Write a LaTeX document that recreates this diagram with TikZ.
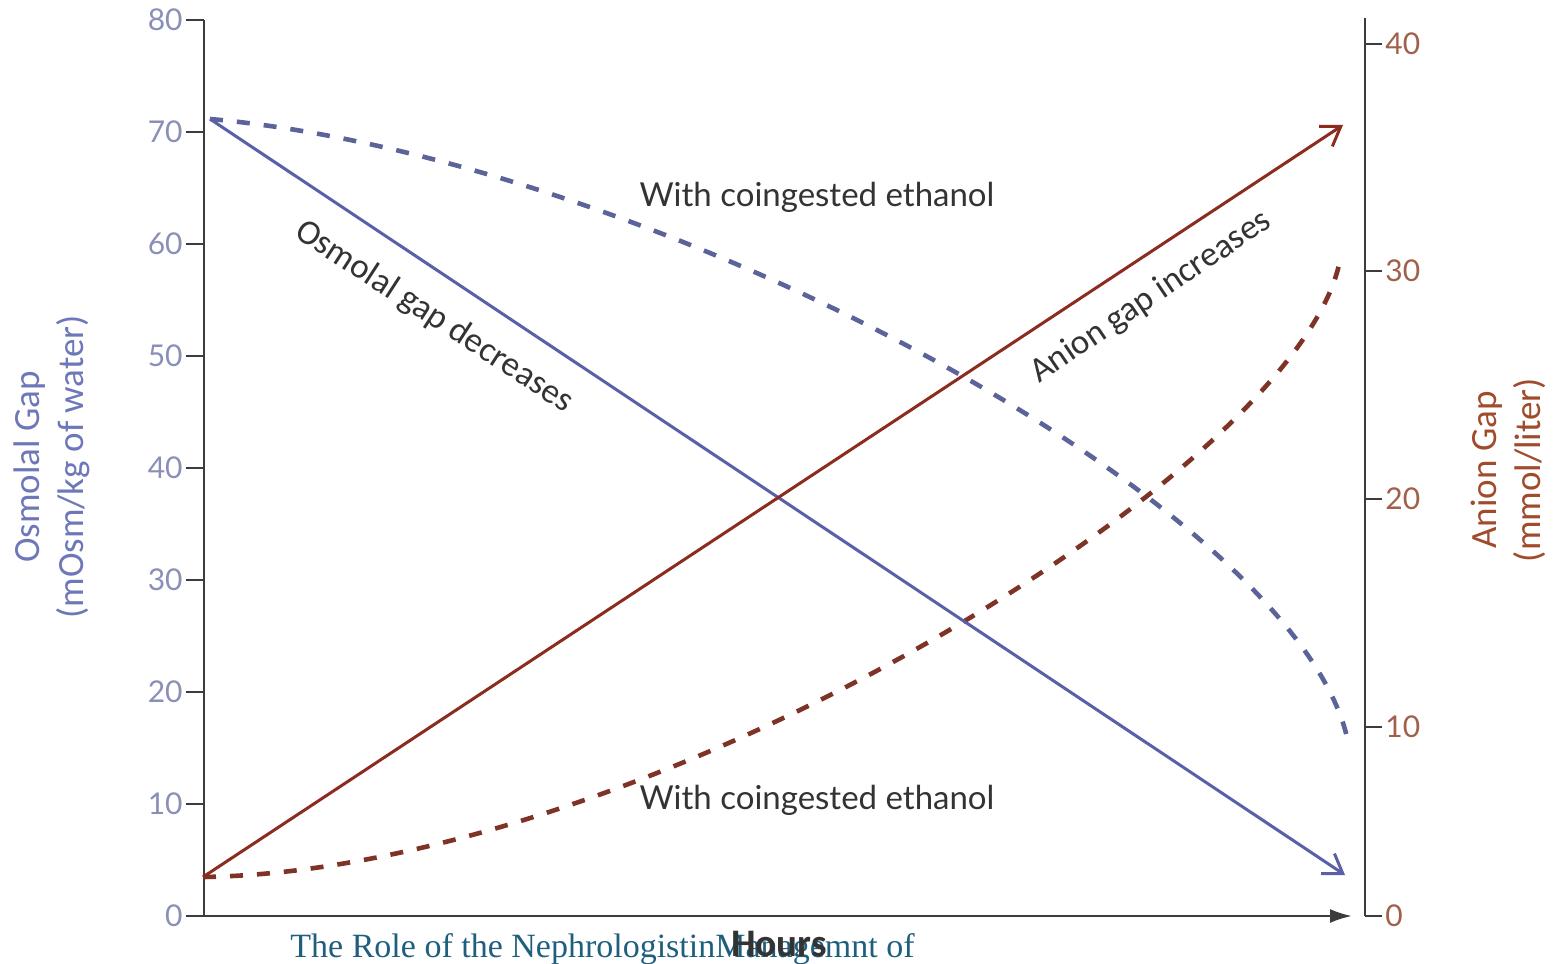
\documentclass[tikz,border=0pt]{standalone}
\usepackage{fontspec}
\setmainfont{Lato}
\newfontfamily\carl{Carlito}
\newfontfamily\serfont{Liberation Serif}
\usetikzlibrary{arrows.meta}
\definecolor{blu}{HTML}{5A5FA8}
\definecolor{bludash}{HTML}{5C6399}
\definecolor{red}{HTML}{8C2B1F}
\definecolor{reddash}{HTML}{7E3326}
\definecolor{ltick}{HTML}{8A8FB8}
\definecolor{rtick}{HTML}{A0604A}
\definecolor{ltitle}{HTML}{6E78B8}
\definecolor{rtitle}{HTML}{A04B2C}
\definecolor{axisc}{HTML}{3C3C3C}
\definecolor{txt}{HTML}{333333}
\definecolor{tealc}{HTML}{1F5F7E}
\tikzset{
  axisline/.style={draw=axisc, line width=1.2pt},
  ticklab/.style={font=\fontsize{15}{15}\selectfont, inner sep=0pt},
  solidblue/.style={draw=blu, line width=1.5pt},
  solidred/.style={draw=red, line width=1.5pt},
  dashblue/.style={draw=bludash, line width=2.3pt, dash pattern=on 6.5pt off 7pt},
  dashred/.style={draw=reddash, line width=2.3pt, dash pattern=on 6.5pt off 7pt},
  curvelab/.style={text=txt, font=\fontsize{16.5}{16.5}\selectfont, inner sep=0pt},
  slantlab/.style={text=txt, font=\carl\fontsize{17.5}{17.5}\selectfont, inner sep=0pt},
  axtitle/.style={rotate=90, align=center, font=\carl\fontsize{18.5}{22}\selectfont, inner sep=0pt},
  barb/.style={-{Straight Barb[length=9pt,width=12pt]}}
}
\begin{document}
\begin{tikzpicture}[x=0.5pt,y=-0.5pt]
\useasboundingbox (0,0) rectangle (1562,963);
\fill[white] (0,0) rectangle (1562,963);

% left axis
\coordinate (o) at (204,916);
\coordinate (ltop) at (204,20);
\coordinate (xend) at (1352,916);
\draw[axisline] (ltop) -- (o);
\draw[axisline,-{Latex[length=11pt,width=7pt]}] (o) -- (xend);
\foreach \v/\t in {0/0,1/10,2/20,3/30,4/40,5/50,6/60,7/70,8/80}{
  \coordinate (lt\v) at (204,916-\v*112);
  \coordinate (ls\v) at (186,916-\v*112);
  \draw[axisline] (ls\v) -- (lt\v);
  \node[ticklab, text=ltick, anchor=east] (ln\v) at (183,916-\v*112) {\t};
}

% right axis
\coordinate (rb) at (1365,916);
\coordinate (rtop) at (1365,18);
\draw[axisline] (rtop) -- (rb);
\foreach \y/\t in {44/40,271/30,499/20,727/10,916/0}{
  \coordinate (ra\t) at (1365,\y);
  \coordinate (rb\t) at (1382,\y);
  \draw[axisline] (ra\t) -- (rb\t);
  \node[ticklab, text=rtick, anchor=west] (rn\t) at (1385,\y) {\t};
}

% axis titles
\node[axtitle, text=ltitle] (lttl) at (52,467) {Osmolal Gap\\(mOsm/kg of water)};
\node[axtitle, text=rtitle] (rttl) at (1508,470) {Anion Gap\\(mmol/liter)};

% dashed curves
\coordinate (bd0) at (210,119);
\coordinate (bd3) at (1347,737);
\coordinate (rd0) at (203,877);
\coordinate (rd3) at (1340,260);
\draw[dashblue] (bd0) .. controls (650,158) and (1290,500) .. (bd3);
\draw[dashred] (rd0) .. controls (650,870) and (1300,470) .. (rd3);

% solid lines
\coordinate (bs) at (210,119);
\coordinate (be) at (1345,875);
\coordinate (rs) at (203,877);
\coordinate (re) at (1343,125);
\draw[solidblue, barb] (bs) -- (be);
\draw[solidred, barb] (rs) -- (re);

% labels
\node[curvelab] (w1) at (817,197) {With coingested ethanol};
\node[curvelab] (w2) at (817,800) {With coingested ethanol};
\node[slantlab, rotate=-33] (og) at (434,317) {Osmolal gap decreases};
\node[slantlab, rotate=34] (ag) at (1151,297) {Anion gap increases};

% bottom
\node[anchor=base west, inner sep=0pt, text=tealc, font=\serfont\fontsize{17}{17}\selectfont] (cap) at (290,957) {The Role of the NephrologistinManagemnt of};
\node[anchor=base, inner sep=0pt, text=txt, font=\carl\bfseries\fontsize{19.5}{19.5}\selectfont] (hrs) at (779,956) {Hours};
\end{tikzpicture}
\end{document}
